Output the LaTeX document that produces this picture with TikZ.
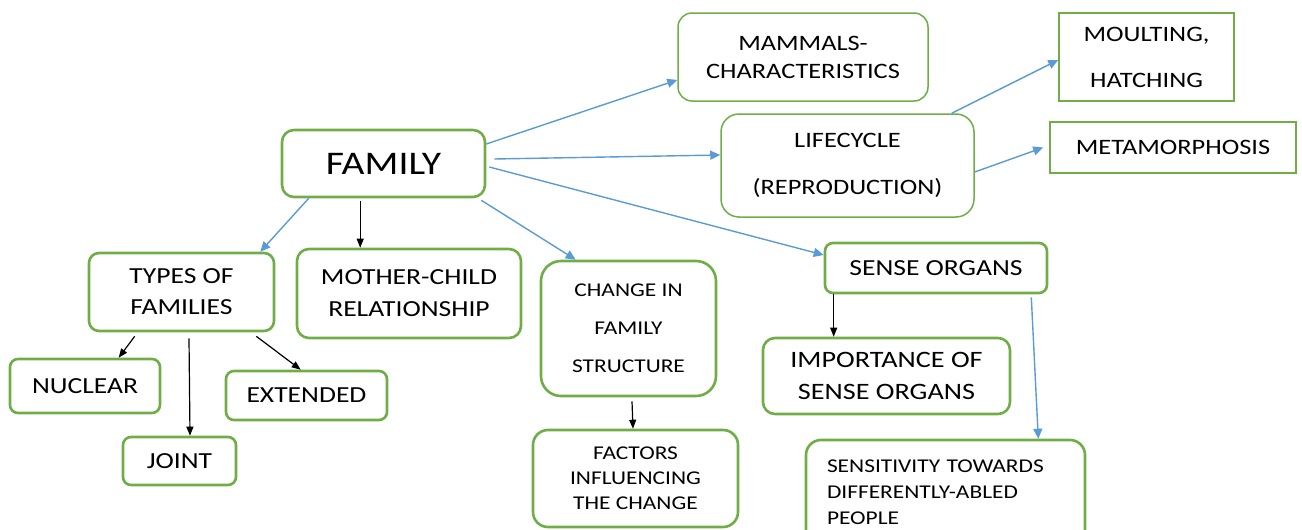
\documentclass[tikz,border=0pt]{standalone}
\usepackage{fontspec}
\setmainfont{Carlito}[FakeStretch=1.2]
\usetikzlibrary{arrows.meta}
\definecolor{boxgreen}{HTML}{70AD47}
\definecolor{arrblue}{HTML}{5B9BD5}
\tikzset{
  fs/.style 2 args={font=\fontsize{#1}{#2}\selectfont},
  rbox/.style={draw=boxgreen, line width=2.6pt, rounded corners=#1, align=center, inner sep=2pt, text=black},
  tbox/.style={draw=boxgreen, line width=1.5pt, rounded corners=#1, align=center, inner sep=2pt, text=black},
  sbox/.style={draw=boxgreen, line width=1.5pt, align=center, inner sep=2pt, text=black},
  sz/.style 2 args={minimum width=#1, minimum height=#2},
  barr/.style={draw=arrblue, line width=1.4pt, -{Triangle[length=10pt,width=9pt]}},
  karr/.style={draw=black, line width=1.2pt, -{Triangle[length=9pt,width=7pt]}}
}
\begin{document}
\begin{tikzpicture}[x=1pt,y=-1pt]
\useasboundingbox (0,0) rectangle (1302,530);
% nodes
\node[rbox=12pt, sz={203pt}{67pt}, fs={33}{40}] (fam) at (383.5,163.5) {FAMILY};
\node[tbox=14pt, sz={250pt}{88pt}, fs={22}{28}] (mam) at (803,57) {MAMMALS-\\CHARACTERISTICS};
\node[sbox, sz={175pt}{88pt}, fs={22}{46}] (moult) at (1146.5,57) {MOULTING,\\HATCHING};
\node[tbox=18pt, sz={253pt}{103pt}, fs={22}{47}] (life) at (847.5,165.5) {LIFECYCLE\\(REPRODUCTION)};
\node[sbox, sz={246pt}{51pt}, fs={22}{28}] (meta) at (1173,147.5) {METAMORPHOSIS};
\node[rbox=8pt, sz={222pt}{50pt}, fs={23}{28}] (sense) at (936,268) {SENSE ORGANS};
\node[rbox=12pt, sz={247pt}{76pt}, fs={23.5}{32}] (imp) at (886.5,376) {IMPORTANCE OF\\SENSE ORGANS};
\node[rbox=15pt, align=left, text width=237pt, inner xsep=21pt, minimum height=105pt, fs={19.5}{26}] (sens) at (945.5,492.5) {SENSITIVITY TOWARDS\\DIFFERENTLY-ABLED\\PEOPLE};
\node[rbox=10pt, sz={185pt}{78pt}, fs={23}{31}] (types) at (181.5,292) {TYPES OF\\FAMILIES};
\node[rbox=12pt, sz={224pt}{89pt}, fs={23}{32}] (mother) at (409,293.5) {MOTHER-CHILD\\RELATIONSHIP};
\node[rbox=20pt, sz={175pt}{135pt}, fs={19.5}{38}] (change) at (628.5,328.5) {CHANGE IN\\FAMILY\\STRUCTURE};
\node[rbox=15pt, sz={205pt}{97pt}, fs={19.5}{25}] (factors) at (635.5,478.5) {FACTORS\\INFLUENCING\\THE CHANGE};
\node[rbox=8pt, sz={150pt}{54pt}, fs={23}{28}] (nuclear) at (85,386) {NUCLEAR};
\node[rbox=8pt, sz={161pt}{49pt}, fs={23}{28}] (extended) at (306.5,395.5) {EXTENDED};
\node[rbox=8pt, sz={113pt}{48pt}, fs={23}{28}] (joint) at (179.5,461) {JOINT};
% connectors
\draw[barr] ([xshift=28pt]fam.south west) -- ([xshift=-15pt]types.north east);
\draw[karr] ([xshift=79.5pt,yshift=-3pt]fam.south west) -- ([xshift=64.5pt]mother.north west);
\draw[barr] ([xshift=-5pt,yshift=-2pt]fam.south east) -- ([xshift=36pt]change.north west);
\draw[barr] ([yshift=19.5pt]fam.east) -- ([yshift=-23pt]mam.west);
\draw[barr] ([xshift=8pt,yshift=4.5pt]fam.east) -- ([yshift=10.5pt]life.west);
\draw[barr] ([xshift=3pt,yshift=-3.5pt]fam.east) -- ([yshift=13pt]sense.west);
\draw[barr] ([xshift=-23pt]life.north east) -- ([yshift=-3pt]moult.west);
\draw[barr] ([yshift=-6.5pt]life.east) -- ([xshift=-6pt]meta.west);
\draw[karr] ([xshift=10pt]sense.south west) -- ([xshift=72pt]imp.north west);
\draw[barr] ([xshift=-17pt,yshift=-3pt]sense.south east) -- ([xshift=-48pt]sens.north east);
\draw[karr] ([xshift=47pt,yshift=-4pt]types.south west) -- ([xshift=110pt]nuclear.north west);
\draw[karr] ([xshift=7.5pt,yshift=-6pt]types.south) -- ([xshift=10.5pt]joint.north);
\draw[karr] ([xshift=-19pt,yshift=-4pt]types.south east) -- ([xshift=76pt]extended.north west);
\draw[karr] ([xshift=3.5pt,yshift=-4pt]change.south) -- ([xshift=-2.5pt]factors.north);
\end{tikzpicture}
\end{document}
